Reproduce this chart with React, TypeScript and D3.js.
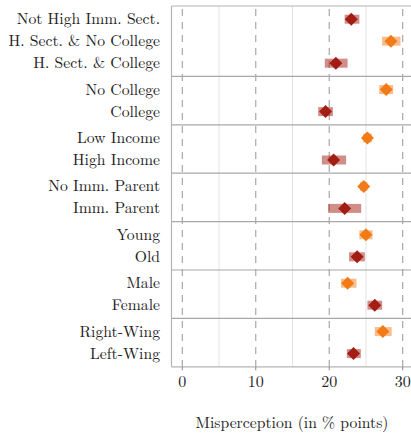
import React from "react";
import * as d3 from "d3";

const labels = [
  "Not High Imm. Sect.", "H. Sect. & No College", "H. Sect. & College",
  "No College", "College",
  "Low Income", "High Income",
  "No Imm. Parent", "Imm. Parent",
  "Young", "Old",
  "Male", "Female",
  "Right-Wing", "Left-Wing",
];
const groupSizes = [3, 2, 2, 2, 2, 2, 2];
const estimates = [23.0, 28.4, 20.9, 27.75, 19.5, 25.2, 20.6, 24.7, 22.1, 25.0, 23.8, 22.5, 26.2, 27.3, 23.3];
const ciLow = [22.1, 27.2, 19.4, 26.8, 18.5, 24.6, 19.0, 24.2, 19.85, 24.1, 22.7, 21.6, 25.2, 26.2, 22.4];
const ciHigh = [24.1, 29.7, 22.5, 28.7, 20.5, 25.8, 22.3, 25.2, 24.35, 25.9, 24.85, 23.7, 27.2, 28.5, 24.3];
const kinds = ["red", "orange", "red", "orange", "red", "orange", "red", "orange", "red", "orange", "red", "orange", "red", "orange", "red"];
const dashedTicks = [0, 10, 20, 30];
const solidTicks = [5, 15, 25];

const colors: Record<string, string> = { orange: "#f27b18", red: "#a31d14" };

export default function App() {
  const W = 411, H = 433;
  const left = 171.5, top = 6;
  const x = d3.scaleLinear().domain([0, 30]).range([182.3, 402.7]);
  const rowUnits: number[] = [];
  const sepUnits: number[] = [];
  let u = 0.6;
  groupSizes.forEach((g, gi) => {
    for (let i = 0; i < g; i++) {
      rowUnits.push(u);
      if (i < g - 1) u += 1;
    }
    if (gi < groupSizes.length - 1) {
      sepUnits.push(u + 0.6);
      u += 1.2;
    }
  });
  const totalUnits = u + 0.6;
  const y = d3.scaleLinear().domain([0, totalUnits]).range([top, top + totalUnits * 22]);
  const bottom = y(totalUnits);
  const font = "Latin Modern Roman";
  const diamond = (cx: number, cy: number, r: number) =>
    `M${cx},${cy - r}L${cx + r},${cy}L${cx},${cy + r}L${cx - r},${cy}Z`;

  return (
    <svg width={W} height={H} style={{ position: "fixed", left: 0, top: 0, background: "#fff", fontFamily: font }}>
      {solidTicks.map((t) => (
        <line key={"s" + t} x1={x(t)} x2={x(t)} y1={top} y2={bottom} stroke="#e3e3e3" strokeWidth={1} />
      ))}
      {dashedTicks.map((t) => (
        <line key={"d" + t} x1={x(t)} x2={x(t)} y1={top} y2={bottom} stroke="#a0a0a0" strokeWidth={1.1} strokeDasharray="7,6" strokeDashoffset={-3} />
      ))}
      {sepUnits.map((s, i) => (
        <line key={"g" + i} x1={left} x2={W} y1={y(s)} y2={y(s)} stroke="#a8a8a8" strokeWidth={1.2} />
      ))}
      <line x1={left} x2={left} y1={top} y2={bottom} stroke="#b4b4b4" strokeWidth={1.2} />
      <line x1={left} x2={W} y1={top} y2={top} stroke="#b4b4b4" strokeWidth={1.2} />
      <line x1={left} x2={W} y1={bottom} y2={bottom} stroke="#b4b4b4" strokeWidth={1.2} />
      {dashedTicks.map((t) => (
        <g key={"t" + t}>
          <line x1={x(t)} x2={x(t)} y1={bottom} y2={bottom + 3.5} stroke="#888" strokeWidth={1} />
          <text x={x(t)} y={387} textAnchor="middle" fontSize={16} fill="#222">{t}</text>
        </g>
      ))}
      {labels.map((l, i) => (
        <text key={"l" + i} x={160} y={y(rowUnits[i])} dy="0.32em" textAnchor="end" fontSize={15.7} fill="#222">{l}</text>
      ))}
      {labels.map((l, i) => (
        <g key={"m" + i}>
          <rect x={x(ciLow[i])} width={x(ciHigh[i]) - x(ciLow[i])} y={y(rowUnits[i]) - 4.5} height={9} fill={colors[kinds[i]]} opacity={0.5} />
          <path d={diamond(x(estimates[i]), y(rowUnits[i]), 6.5)} fill={colors[kinds[i]]} />
        </g>
      ))}
      <text x={292} y={428} textAnchor="middle" fontSize={15.7} fill="#222">Misperception (in % points)</text>
    </svg>
  );
}
